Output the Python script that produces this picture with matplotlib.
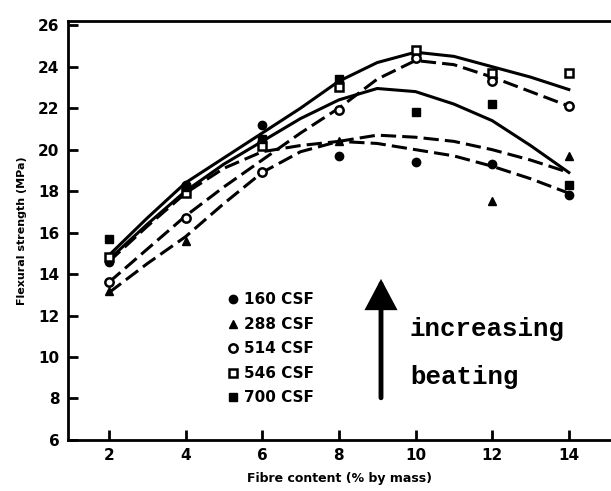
import numpy as np
import matplotlib
matplotlib.use("Agg")
import matplotlib.pyplot as plt

# measured points (fibre content %, flexural strength MPa)
fibre = [2, 4, 6, 8, 10, 12, 14]
csf160 = [14.6, 18.3, 21.2, 19.7, 19.4, 19.3, 17.8]
fibre288 = [2, 4, 8, 12, 14]
csf288 = [13.2, 15.6, 20.4, 17.5, 19.7]
csf514 = [13.6, 16.7, 18.9, 21.9, 24.4, 23.3, 22.1]
csf546 = [14.8, 17.9, 20.2, 23.0, 24.8, 23.7, 23.7]
csf700 = [15.7, 18.2, 20.5, 23.4, 21.8, 22.2, 18.3]

# fitted curves, every 1 % fibre
curve_x = [2, 3, 4, 5, 6, 7, 8, 9, 10, 11, 12, 13, 14]
fit546 = [14.9, 16.7, 18.4, 19.6, 20.8, 22.0, 23.3, 24.2, 24.7, 24.5, 24.0, 23.5, 22.9]
fit514 = [13.6, 15.2, 16.8, 18.2, 19.5, 20.8, 22.0, 23.4, 24.3, 24.1, 23.5, 22.8, 22.1]
fit700 = [14.7, 16.4, 18.0, 19.3, 20.4, 21.5, 22.4, 22.95, 22.8, 22.2, 21.4, 20.2, 18.9]
fit288 = [13.1, 14.5, 15.8, 17.4, 18.9, 19.9, 20.4, 20.7, 20.6, 20.4, 20.0, 19.5, 18.9]
fit160 = [14.6, 16.3, 17.9, 19.1, 19.9, 20.2, 20.4, 20.3, 20.0, 19.7, 19.2, 18.6, 17.9]

xticks = [2, 4, 6, 8, 10, 12, 14]
yticks = [6, 8, 10, 12, 14, 16, 18, 20, 22, 24, 26]

fig = plt.figure(figsize=(6.11, 4.91), dpi=100)
ax = fig.add_axes([0.111, 0.104, 0.889, 0.853])

lw = 2.2
dash = (0, (5, 2))
ax.plot(curve_x, fit546, color='black', lw=lw)
ax.plot(curve_x, fit514, color='black', lw=lw, linestyle=dash)
ax.plot(curve_x, fit700, color='black', lw=lw)
ax.plot(curve_x, fit288, color='black', lw=lw, linestyle=dash)
ax.plot(curve_x, fit160, color='black', lw=lw, linestyle=dash)

ms = 6
ax.plot(fibre, csf160, 'o', color='black', ms=ms, label='160 CSF')
ax.plot(fibre288, csf288, '^', color='black', ms=ms, label='288 CSF')
ax.plot(fibre, csf514, 'o', mfc='white', mec='black', mew=1.8, ms=ms, label='514 CSF')
ax.plot(fibre, csf546, 's', mfc='white', mec='black', mew=1.8, ms=ms - 0.5, label='546 CSF')
ax.plot(fibre, csf700, 's', color='black', ms=ms, label='700 CSF')

ax.set_xlim(0.93, 15.1)
ax.set_ylim(6, 26.2)
ax.set_xticks(xticks)
ax.set_yticks(yticks)
ax.tick_params(direction='in', length=7, width=2, labelsize=11, pad=6)
for lab in ax.get_xticklabels() + ax.get_yticklabels():
    lab.set_fontweight('bold')

for side in ['left', 'bottom', 'top']:
    ax.spines[side].set_linewidth(2)
ax.spines['right'].set_visible(False)

ax.set_xlabel('Fibre content (% by mass)', fontsize=9, fontweight='bold', labelpad=6)
ax.set_ylabel('Flexural strength (MPa)', fontsize=8, fontweight='bold', labelpad=8)

leg = ax.legend(loc='upper left', bbox_to_anchor=(0.27, 0.385), frameon=False,
                handlelength=0.6, handletextpad=0.4, labelspacing=0.62,
                prop={'size': 11, 'weight': 'bold'})

# arrow + annotation
ax.annotate('', xy=(9.1, 13.9), xytext=(9.1, 7.9),
            arrowprops=dict(arrowstyle='-|>,head_width=0.9,head_length=1.7',
                            color='black', lw=3.5, joinstyle='miter'))
ax.text(9.85, 11.35, 'increasing', family='Liberation Mono', fontsize=18.5,
        fontweight='bold', va='center')
ax.text(9.85, 9.05, 'beating', family='Liberation Mono', fontsize=18.5,
        fontweight='bold', va='center')

plt.savefig('out.png', dpi=100)
